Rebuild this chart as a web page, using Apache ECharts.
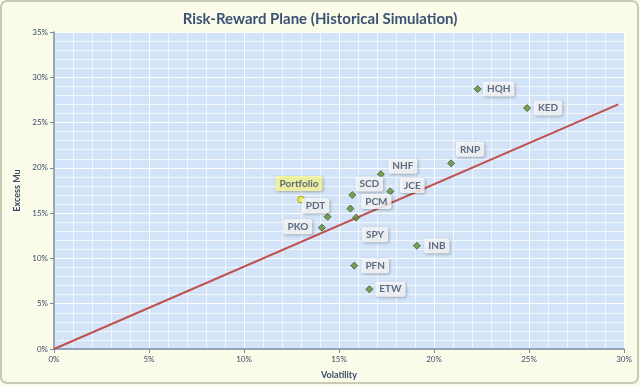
<!DOCTYPE html>
<html><head><meta charset="utf-8">
<script src="https://cdn.jsdelivr.net/npm/echarts@6/dist/echarts.min.js"></script>
<style>html,body{margin:0;padding:0;background:#fbfbea;}#c{width:640px;height:385px;}</style>
</head><body><div id="c"></div>
<script>
const names = ['HQH','KED','RNP','NHF','JCE','SCD','PCM','PDT','SPY','PKO','INB','PFN','ETW'];
const volatility = [22.3,24.9,20.9,17.2,17.7,15.7,15.6,14.4,15.9,14.1,19.1,15.8,16.6];
const excessMu = [28.7,26.6,20.5,19.3,17.4,17.0,15.5,14.6,14.5,13.4,11.4,9.2,6.6];
const labelOffsets = [[14,0],[14,0],[12,-14],[15,-8],[15,-6],[10,-11],[19,-7],[-5,-11],[12,17],[-17,-1],[13,0],[14,0],[14,0]];
const portfolio = {name:'Portfolio', vol:13.0, mu:16.5};
const lineX = [0, 29.7];
const lineY = [0, 27.0];
const xTicks = [0,5,10,15,20,25,30];

const txt = '#3a4b68';
const chart = echarts.init(document.getElementById('c'));
const labelStyle = {
  show:true, position:'inside', color:txt, fontFamily:'Lato', fontWeight:'bold', fontSize:10,
  backgroundColor:'#ffffff', padding:[3,4,2,4], borderRadius:2,
  shadowColor:'rgba(0,0,0,0.35)', shadowBlur:3, shadowOffsetX:1, shadowOffsetY:1,
  formatter: p => p.data.name
};
chart.setOption({
  animation:false,
  backgroundColor:'#fbfbea',
  title:{text:'Risk-Reward Plane (Historical Simulation)', left:'center', top:7,
    textStyle:{color:'#3b5275', fontFamily:'Lato', fontWeight:'bold', fontSize:15}},
  graphic:[{type:'rect', shape:{x:1,y:1,width:637,height:382,r:6}, style:{fill:'none', stroke:'#c9c9b8', lineWidth:2}, silent:true}],
  grid:{left:54, right:16, top:32, bottom:34, show:true, backgroundColor:'#d3e4f9', borderColor:'#9aa6b8', borderWidth:0},
  xAxis:{type:'value', min:0, max:30, interval:5, name:'Volatility', nameLocation:'middle', nameGap:22,
    nameTextStyle:{color:txt, fontFamily:'Lato', fontWeight:'bold', fontSize:9},
    axisLine:{show:true, lineStyle:{color:'#7a8aa2', width:1.5}},
    axisTick:{show:true, length:4, lineStyle:{color:'#7a8aa2'}},
    axisLabel:{color:txt, fontFamily:'Lato', fontSize:8, margin:6, formatter:v=>v+'%', customValues:xTicks},
    splitLine:{show:true, lineStyle:{color:'#ffffff', width:1}},
    minorTick:{show:false, splitNumber:5},
    minorSplitLine:{show:true, lineStyle:{color:'#f1f6fd', width:1}}},
  yAxis:{type:'value', min:0, max:35, interval:5, name:'Excess Mu', nameLocation:'middle', nameGap:24, nameRotate:90,
    nameTextStyle:{color:txt, fontFamily:'Lato', fontWeight:'bold', fontSize:9},
    axisLine:{show:true, lineStyle:{color:'#7a8aa2', width:1.5}},
    axisTick:{show:true, length:4, lineStyle:{color:'#7a8aa2'}},
    axisLabel:{color:txt, fontFamily:'Lato', fontSize:8, margin:6, formatter:v=>v+'%'},
    splitLine:{show:true, lineStyle:{color:'#ffffff', width:1}},
    minorTick:{show:false, splitNumber:5},
    minorSplitLine:{show:true, lineStyle:{color:'#f1f6fd', width:1}}},
  series:[
    {type:'line', data:lineX.map((x,i)=>[x,lineY[i]]), symbol:'none', lineStyle:{color:'#c0504d', width:2}, z:2, silent:true},
    {type:'scatter', symbol:'diamond', symbolSize:7, z:3,
      itemStyle:{color:'#5f8d32', borderColor:'#3a5a1e', borderWidth:1},
      data:names.map((n,i)=>({name:n, value:[volatility[i], excessMu[i]],
        label:Object.assign({}, labelStyle, {offset:[labelOffsets[i][0]+ (labelOffsets[i][0]>=0?7:-7), labelOffsets[i][1]]})})),
      label:labelStyle},
    {type:'scatter', symbol:'circle', symbolSize:7, z:3,
      itemStyle:{color:'#e6ea2a', borderColor:'#9a9a20', borderWidth:1},
      data:[{name:portfolio.name, value:[portfolio.vol, portfolio.mu],
        label:Object.assign({}, labelStyle, {backgroundColor:'#ffff9a', offset:[-2,-16]})}]}
  ]
});
</script></body></html>
